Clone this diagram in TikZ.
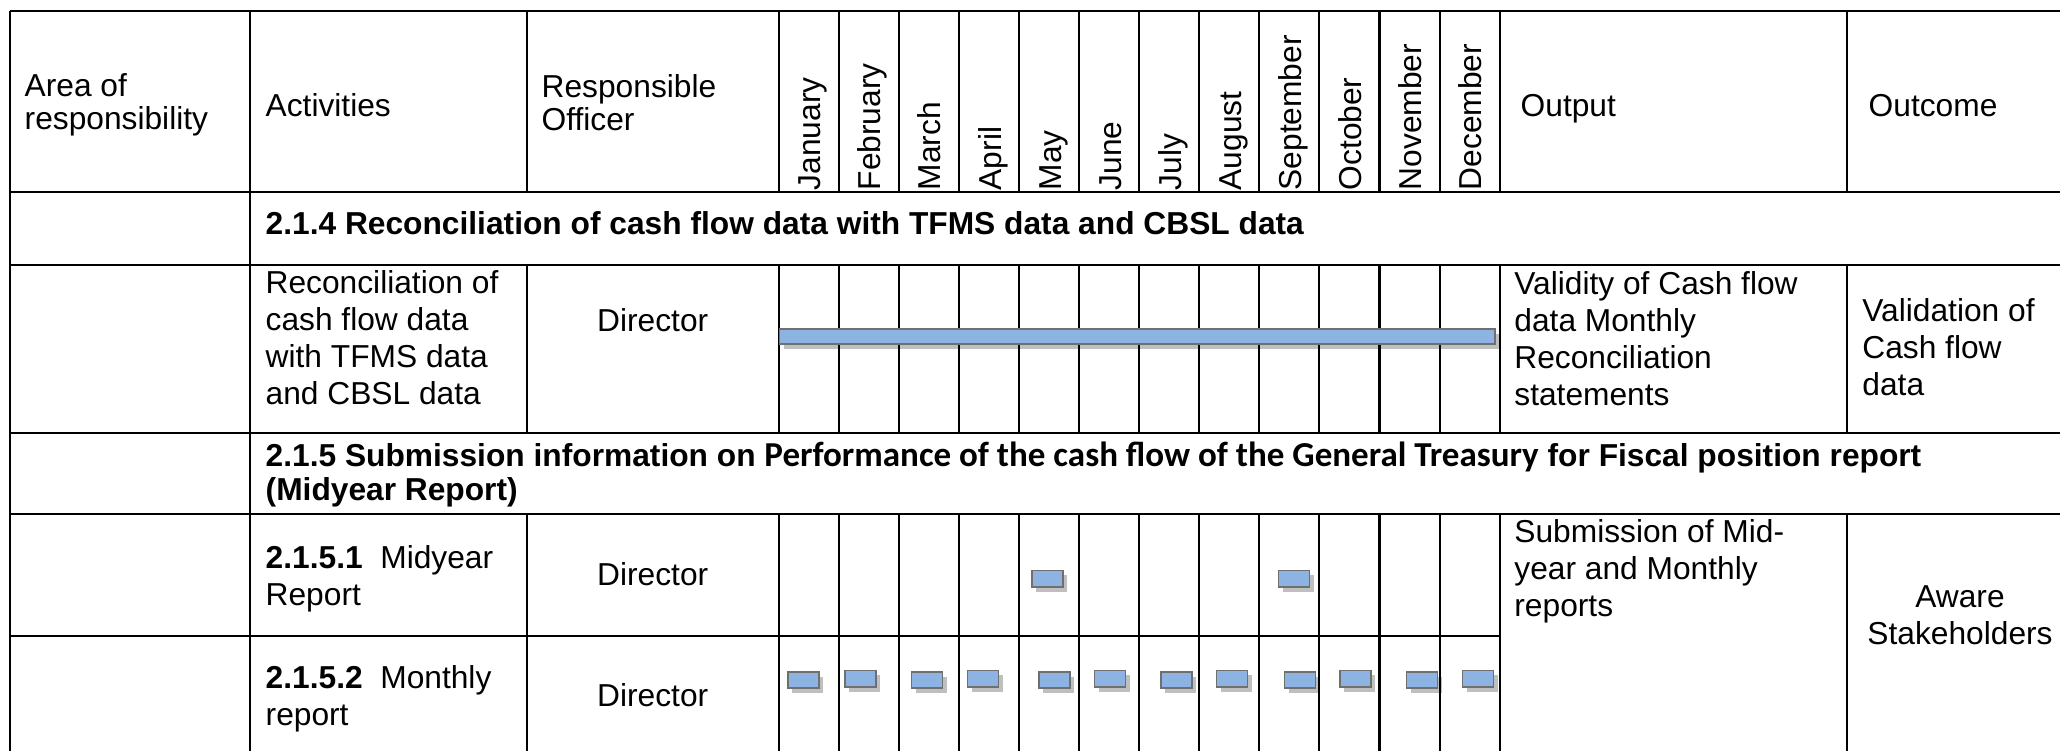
\documentclass[tikz,border=0pt]{standalone}
\usepackage{fontspec}
\setmainfont{Liberation Sans}
\newfontfamily\calibri{Carlito}
\usetikzlibrary{positioning, shadows}
\definecolor{barblue}{HTML}{8DB3E2}
\definecolor{barframe}{HTML}{6F6F6F}

\tikzset{
  txt/.style={inner sep=0pt, align=left, font=\fontsize{9.02}{10.44}\selectfont},
  tighttxt/.style={txt, font=\fontsize{9.02}{9.5}\selectfont},
  monthtxt/.style={inner sep=0pt, rotate=90, anchor=base west, font=\fontsize{9.02}{10.44}\selectfont},
  barbox/.style={draw=barframe, line width=0.45pt, fill=barblue, inner sep=0pt,
    minimum width=0.31cm, minimum height=0.165cm,
    drop shadow={shadow xshift=0.04cm, shadow yshift=-0.05cm, fill=black, opacity=0.25}},
  gridline/.style={line width=0.6pt}
}

\begin{document}
\begin{tikzpicture}[x=0.01cm, y=-0.01cm]
  \useasboundingbox (0,0) rectangle (2060,750);
  \clip (0,0) rectangle (2060,750);

  % table rules
  \draw[gridline] (10,11) -- (2090,11) (10,192.3) -- (2090,192.3)
    (10,265) -- (2090,265) (10,432.7) -- (2090,432.7)
    (10,514.3) -- (2090,514.3) (10,635.7) -- (1499.7,635.7);
  \draw[gridline] (10,11) -- (10,760) (250,11) -- (250,760);
  \foreach \x in {526.7, 1847}
    \draw[gridline] (\x,11) -- (\x,192.3) (\x,265) -- (\x,432.7) (\x,514.3) -- (\x,760);
  \foreach \i [evaluate=\i as \x using 778.7+60.08*\i] in {0,...,12}
    \draw[gridline] (\x,11) -- (\x,192.3) (\x,265) -- (\x,432.7) (\x,514.3) -- (\x,760);

  % header (multi-line nodes sit on their last baseline)
  \node[tighttxt, anchor=base west] (area) at (24,129.4) {Area of\\responsibility};
  \node[txt, anchor=base west] (acts) at (265,116.5) {Activities};
  \node[tighttxt, anchor=base west] (officer) at (541,130.4) {Responsible\\Officer};
  \foreach \mon [count=\i] in {January,February,March,April,May,June,July,August,September,October,November,December}
    \node[monthtxt] (mon\i) at ({778.7+60.08*\i-18},191) {\mon};
  \node[txt, anchor=base west] (output) at (1520,116) {Output};
  \node[txt, anchor=base west] (outcome) at (1868,116) {Outcome};

  % 2.1.4
  \node[txt, anchor=base west, font=\fontsize{9.02}{10.44}\selectfont\bfseries] (sec214) at (265,234)
    {2.1.4 Reconciliation of cash flow data with TFMS data and CBSL data};
  \node[txt, anchor=base west] (reconact) at (265,404.1) {Reconciliation of\\cash flow data\\with TFMS data\\and CBSL data};
  \node[txt, anchor=base] (recondir) at (652.7,331.7) {Director};
  \node[barbox, minimum width=7.15cm, minimum height=0.15cm, anchor=west] (reconbar) at (778.7,336.5) {};
  \node[txt, anchor=base west] (reconout) at (1513.7,405.1) {Validity of Cash flow\\data Monthly\\Reconciliation\\statements};
  \node[txt, anchor=base west] (reconres) at (1861.7,395.1) {Validation of\\Cash flow\\data};

  % 2.1.5
  \node[tighttxt, anchor=base west, font=\fontsize{9.02}{9.4}\selectfont\bfseries] (sec215) at (265,500)
    {2.1.5 Submission information on {\calibri\fontsize{9.96}{9.4}\selectfont Performance of the cash flow of the General Treasury} for Fiscal position report\\(Midyear Report)};
  \node[txt, anchor=base west] (midact) at (265,605) {\textbf{2.1.5.1}\ \ Midyear\\Report};
  \node[txt, anchor=base] (middir) at (652.7,585) {Director};
  \node[barbox] (midmay) at (1047.3,578.7) {};
  \node[barbox] (midsep) at (1294,578.7) {};
  \node[txt, anchor=base west] (monact) at (265,725) {\textbf{2.1.5.2}\ \ Monthly\\report};
  \node[txt, anchor=base] (mondir) at (652.7,706.7) {Director};
  \foreach \bx/\by [count=\i] in {803.7/680, 860.3/678.7, 927/680, 983/678.7, 1054.7/680, 1110/678.7,
      1176.7/680, 1232/678.7, 1300/680, 1355.3/678.7, 1422/680, 1478/678.7}
    \node[barbox] (monthly\i) at (\bx,\by) {};
  \node[txt, anchor=base west] (repout) at (1513.7,616) {Submission of Mid-\\year and Monthly\\reports};
  \node[txt, anchor=base, align=center] (repres) at (1960,644) {Aware\\Stakeholders};
\end{tikzpicture}
\end{document}
